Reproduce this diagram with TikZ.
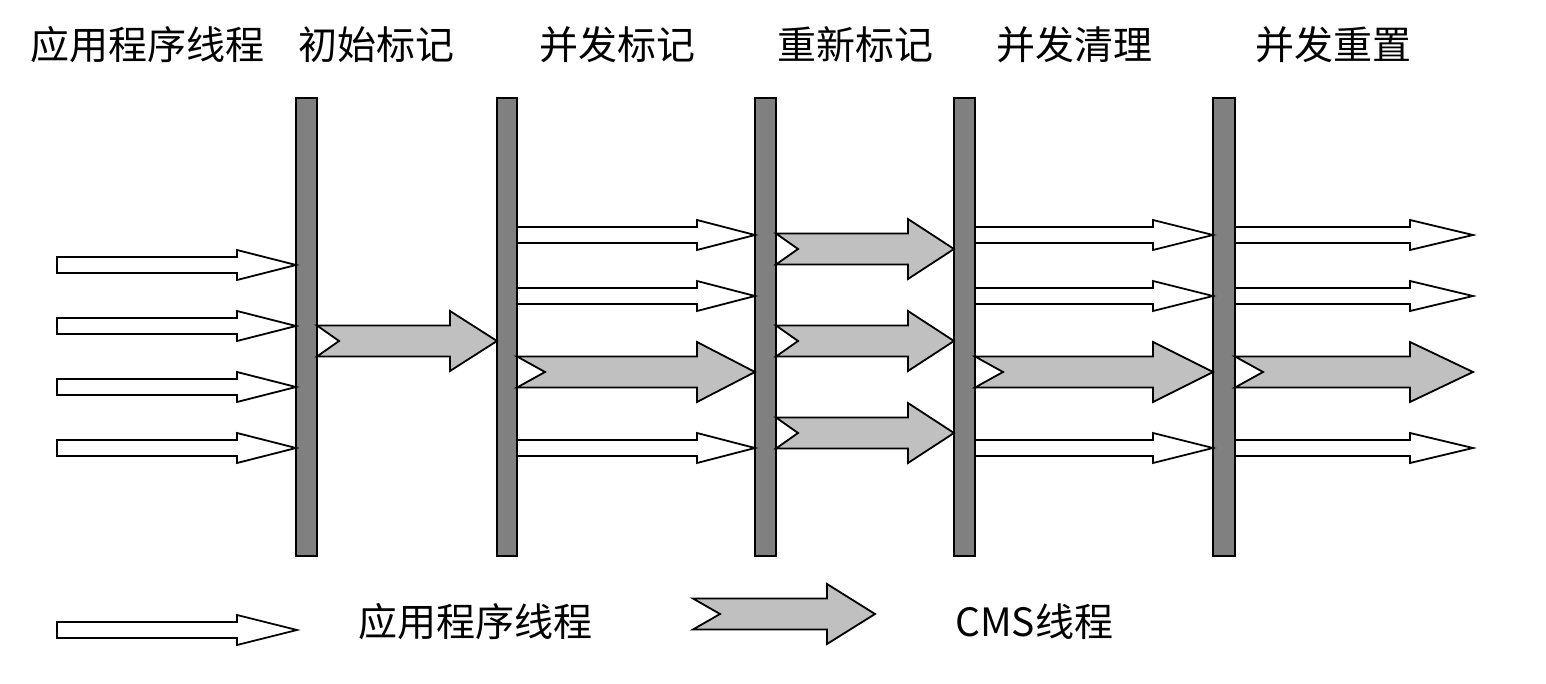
\documentclass[tikz,border=0pt]{standalone}
\usepackage{fontspec}
\usepackage{tikz}
\newfontfamily\cjk{Noto Sans CJK SC}
\definecolor{GrisBarra}{RGB}{128,128,128}
\definecolor{GrisCMS}{RGB}{192,192,192}
% hilo de aplicacion: inicio, punta, y, largo de cabeza
\newcommand{\HiloApp}[4]{%
  \draw[flechaApp] (#1,#3-8) -- (#2-#4,#3-8) -- (#2-#4,#3-15) -- (#2,#3)
    -- (#2-#4,#3+15) -- (#2-#4,#3+8) -- (#1,#3+8) -- cycle;}
% hilo CMS: inicio, punta, y, largo de cabeza, muesca
\newcommand{\HiloCMS}[5]{%
  \draw[flechaCMS] (#1,#3-15.5) -- (#2-#4,#3-15.5) -- (#2-#4,#3-30) -- (#2,#3)
    -- (#2-#4,#3+30) -- (#2-#4,#3+15.5) -- (#1,#3+15.5) -- (#1+#5,#3) -- cycle;}

\begin{document}
\begin{tikzpicture}[x=1pt,y=-1pt,
  barra/.style={draw=black,line width=2pt,fill=GrisBarra},
  flechaApp/.style={draw=black,line width=1.8pt,fill=white,line join=miter},
  flechaCMS/.style={draw=black,line width=1.8pt,fill=GrisCMS,line join=miter},
  etiqueta/.style={anchor=west,inner sep=0pt,font=\cjk\fontsize{39}{44}\selectfont}]
  \useasboundingbox[fill=white] (0,0) rectangle (1546,684);

  % Titulos
  \node[etiqueta] (tApp) at (30,45) {应用程序线程};
  \node[etiqueta] (tIni) at (298,45) {初始标记};
  \node[etiqueta] (tCon) at (539,45) {并发标记};
  \node[etiqueta] (tRem) at (777,45) {重新标记};
  \node[etiqueta] (tLim) at (996,45) {并发清理};
  \node[etiqueta] (tRes) at (1255,45) {并发重置};

  % Barras (pausas)
  \draw[barra] (296,98) rectangle (317,556);
  \draw[barra] (497,98) rectangle (517,556);
  \draw[barra] (755,98) rectangle (776,556);
  \draw[barra] (954,98) rectangle (975,556);
  \draw[barra] (1213,98) rectangle (1235,556);

  % Antes del marcado inicial
  \HiloApp{57}{296}{265}{59}
  \HiloApp{57}{296}{326}{59}
  \HiloApp{57}{296}{387}{59}
  \HiloApp{57}{296}{448}{59}

  % Marcado inicial
  \HiloCMS{317}{497}{341}{47}{22}

  % Marcado concurrente
  \HiloApp{517}{755}{235}{58}
  \HiloApp{517}{755}{296}{58}
  \HiloCMS{517}{755}{372}{58}{28}
  \HiloApp{517}{755}{448}{58}

  % Remarcado
  \HiloCMS{776}{954}{249}{46}{22}
  \HiloCMS{776}{954}{341}{46}{22}
  \HiloCMS{776}{954}{433}{46}{22}

  % Limpieza concurrente
  \HiloApp{975}{1213}{235}{60}
  \HiloApp{975}{1213}{296}{60}
  \HiloCMS{975}{1213}{372}{60}{28}
  \HiloApp{975}{1213}{448}{60}

  % Reinicio concurrente
  \HiloApp{1235}{1473}{235}{63}
  \HiloApp{1235}{1473}{296}{63}
  \HiloCMS{1235}{1473}{372}{63}{28}
  \HiloApp{1235}{1473}{448}{63}

  % Leyenda
  \HiloApp{57}{297}{630}{60}
  \node[etiqueta] (lApp) at (358,622) {应用程序线程};
  \HiloCMS{693}{875}{614}{48}{27}
  \node[etiqueta] (lCMS) at (955,622) {CMS线程};
\end{tikzpicture}
\end{document}
